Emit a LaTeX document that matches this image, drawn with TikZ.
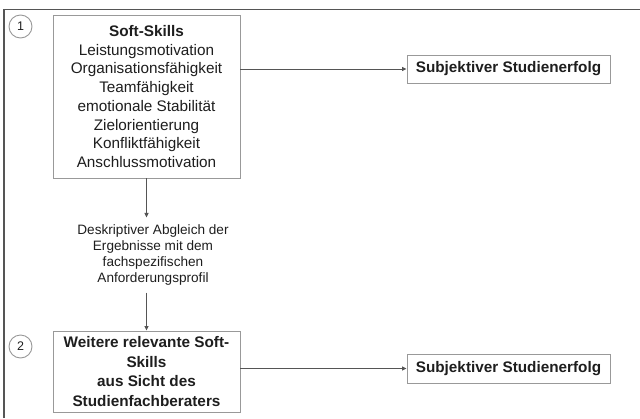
\documentclass[tikz,border=0pt]{standalone}
\usepackage{fontspec}
\setmainfont{Liberation Sans}
\usetikzlibrary{arrows.meta}
\definecolor{lineg}{HTML}{555555}
\definecolor{boxg}{HTML}{999999}
\definecolor{txt}{HTML}{1E1E1E}
\begin{document}
\begin{tikzpicture}[x=1pt,y=-1pt,
  box/.style={draw=boxg,line width=0.9pt,fill=white,inner sep=0pt,align=center,text=txt},
  conn/.style={draw=lineg,line width=0.9pt,-{Triangle[length=4.5pt,width=4pt]}},
  num/.style={draw=boxg,line width=0.9pt,circle,minimum size=23pt,inner sep=0pt,text=txt,font=\fontsize{12.5}{14}\selectfont}]
\useasboundingbox (0,0) rectangle (640,418);
\draw[lineg,line width=1.2pt] (4,418) -- (4,9.5) -- (640,9.5);
\node[num] (c1) at (20.5,26.5) {1};
\node[num] (c2) at (20.5,346.5) {2};
\node[box,minimum width=187pt,minimum height=163pt,font=\fontsize{15.3}{18.7}\selectfont] (b1) at (146.5,96.5)
 {\textbf{Soft-Skills}\\Leistungsmotivation\\Organisationsfähigkeit\\Teamfähigkeit\\emotionale Stabilität\\Zielorientierung\\Konfliktfähigkeit\\Anschlussmotivation};
\node[box,minimum width=203pt,minimum height=28pt,font=\bfseries\fontsize{15.3}{18}\selectfont] (r1) at (508.5,69) {Subjektiver Studienerfolg};
\node[box,minimum width=187pt,minimum height=81pt,font=\bfseries\fontsize{15.3}{19.5}\selectfont] (b2) at (146.5,371.5)
 {Weitere relevante Soft-\\Skills\\aus Sicht des\\Studienfachberaters};
\node[box,minimum width=203pt,minimum height=29pt,font=\bfseries\fontsize{15.3}{18}\selectfont] (r2) at (508.5,368.5) {Subjektiver Studienerfolg};
\node[draw=none,align=center,text=txt,inner xsep=0pt,inner ysep=7pt,font=\fontsize{13.6}{16}\selectfont] (d) at (153,255)
 {Deskriptiver Abgleich der\\Ergebnisse mit dem\\fachspezifischen\\Anforderungsprofil};
\draw[conn] (b1.east |- r1.west) -- (r1.west);
\draw[conn] (b2.east |- r2.west) -- (r2.west);
\draw[conn] (b1.south) -- (b1.south |- d.north);
\draw[conn] (b1.south |- d.south) -- (b2.north);
\end{tikzpicture}
\end{document}
